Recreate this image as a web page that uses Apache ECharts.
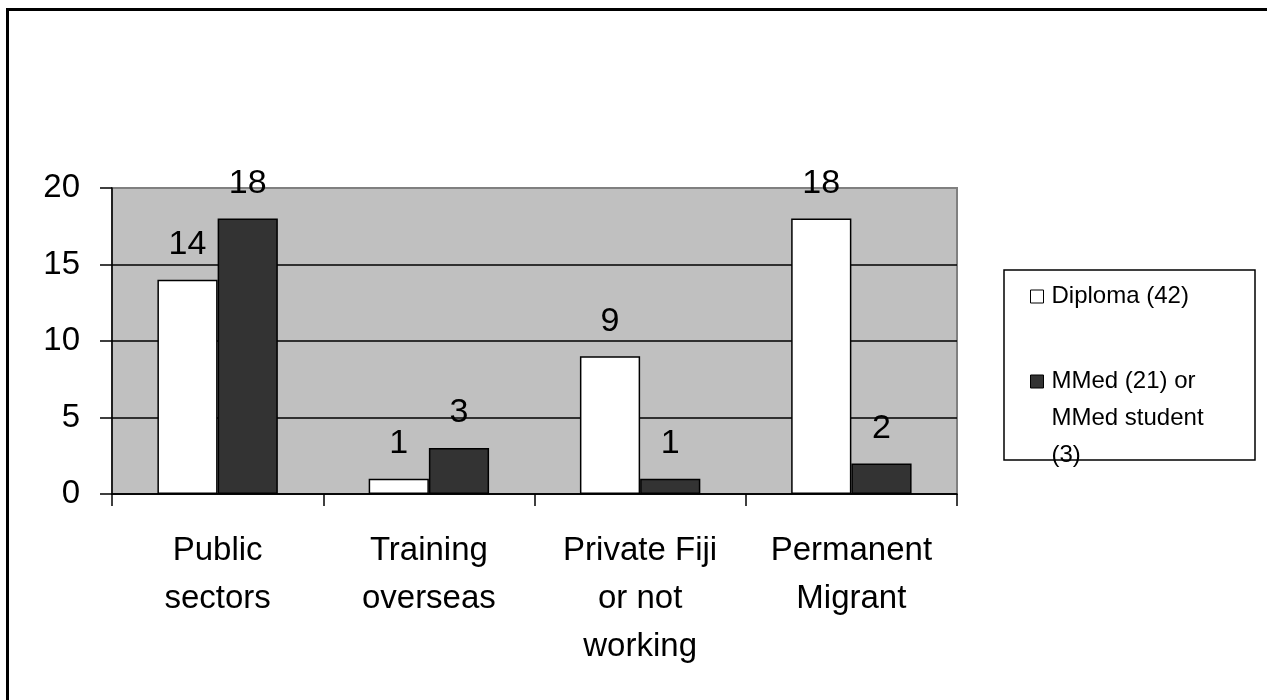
<!DOCTYPE html>
<html>
<head>
<meta charset="utf-8">
<script src="https://cdn.jsdelivr.net/npm/echarts@6/dist/echarts.min.js"></script>
<style>
html,body{margin:0;padding:0;background:#fff;}
#chart{width:1267px;height:700px;}
</style>
</head>
<body>
<div id="chart"></div>
<script>
// 数据
var categories=['Public\nsectors','Training\noverseas','Private Fiji\nor not\nworking','Permanent\nMigrant'];
var diplomaName='Diploma (42)';
var mmedName='MMed (21) or MMed student (3)';
var diplomaValues=[14,1,9,18];
var mmedValues=[18,3,1,2];
var yTicks=[0,5,10,15,20];

var FONT='"Liberation Sans", Arial, sans-serif';

var myChart=echarts.init(document.getElementById('chart'));

var valueLabel={
	show:true,
	position:'top',
	distance:18,
	color:'#000',
	fontFamily:FONT,
	fontSize:34
};

var legendText={color:'#000',fontFamily:FONT,fontSize:24,lineHeight:37,padding:[0,0,0,3]};

var option={
	animation:false,
	backgroundColor:'#fff',
	graphic:[{
		type:'rect',
		shape:{x:7.5,y:9.5,width:1300,height:800},
		style:{fill:'none',stroke:'#000',lineWidth:3},
		silent:true,
		z:100
	},{
		type:'rect',
		shape:{x:1004,y:270,width:251,height:190},
		style:{fill:'#fff',stroke:'#000',lineWidth:1.5},
		silent:true,
		z:-1
	}],
	grid:{
		left:112,
		right:310,
		top:188,
		bottom:206,
		show:true,
		backgroundColor:'#c0c0c0',
		borderColor:'#808080',
		borderWidth:2,
		containLabel:false
	},
	legend:[{
		data:[diplomaName],
		left:1030,
		top:278,
		padding:0,
		icon:'rect',
		itemWidth:13,
		itemHeight:13,
		itemGap:0,
		itemStyle:{borderColor:'#000',borderWidth:1},
		textStyle:legendText,
		selectedMode:false
	},{
		data:[mmedName],
		left:1030,
		top:289,
		padding:0,
		icon:'rect',
		itemWidth:13,
		itemHeight:13,
		itemGap:0,
		itemStyle:{borderColor:'#000',borderWidth:1},
		formatter:function(name){
			// 前面两行空白，使图标对齐第一行文字
			return '\n\nMMed (21) or\nMMed student\n(3)';
		},
		textStyle:legendText,
		selectedMode:false
	}],
	xAxis:{
		type:'category',
		data:categories,
		axisLine:{lineStyle:{color:'#000',width:1.5}},
		axisTick:{show:true,length:12,lineStyle:{color:'#000',width:1.5}},
		axisLabel:{
			interval:0,
			margin:33,
			color:'#000',
			fontFamily:FONT,
			fontSize:33,
			lineHeight:48
		},
		splitLine:{show:false}
	},
	yAxis:{
		type:'value',
		min:yTicks[0],
		max:yTicks[yTicks.length-1],
		interval:5,
		axisLine:{show:true,lineStyle:{color:'#000',width:1.5}},
		axisTick:{show:true,length:12,lineStyle:{color:'#000',width:1.5}},
		axisLabel:{
			margin:32,
			color:'#000',
			fontFamily:FONT,
			fontSize:33
		},
		splitLine:{
			show:true,
			lineStyle:{color:['#000','#000','#000','#000','#808080'],width:1.5}
		}
	},
	series:[{
		name:diplomaName,
		type:'bar',
		data:diplomaValues,
		barGap:'0%',
		barCategoryGap:'43%',
		itemStyle:{color:'#fff',borderColor:'#000',borderWidth:1.5},
		label:valueLabel
	},{
		name:mmedName,
		type:'bar',
		data:mmedValues,
		barGap:'0%',
		barCategoryGap:'43%',
		itemStyle:{color:'#333333',borderColor:'#000',borderWidth:1.5},
		label:valueLabel
	}]
};
myChart.setOption(option);
</script>
</body>
</html>
